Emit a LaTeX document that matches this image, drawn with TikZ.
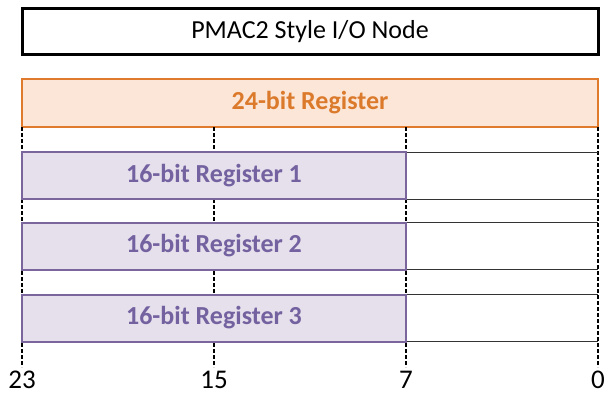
\documentclass[tikz,border=0pt]{standalone}
\usepackage{fontspec}
\setmainfont{Carlito}
\definecolor{orgline}{HTML}{E07B2E}
\definecolor{orgfill}{HTML}{FBE6D7}
\definecolor{orgtext}{HTML}{DC7A2C}
\definecolor{purline}{HTML}{7A669C}
\definecolor{purfill}{HTML}{E5E0EC}
\definecolor{purtext}{HTML}{7462A0}
\begin{document}
\begin{tikzpicture}[x=1pt,y=-1pt,
  titlebox/.style={draw=black,line width=3pt,minimum width=576pt,minimum height=46pt,inner sep=0pt,font=\fontsize{26}{30}\selectfont},
  wordbox/.style={draw=orgline,fill=orgfill,line width=2pt,minimum width=576pt,minimum height=47pt,inner sep=0pt,text=orgtext,font=\bfseries\fontsize{26}{30}\selectfont},
  halfbox/.style={draw=purline,fill=purfill,line width=2pt,minimum width=384pt,minimum height=47pt,inner sep=0pt,text=purtext,font=\bfseries\fontsize{26}{30}\selectfont},
  tick/.style={line width=1.6pt,dash pattern=on 3.5pt off 2.5pt},
  thin/.style={line width=1pt,draw=black!80},
  bitlbl/.style={font=\fontsize{27}{30}\selectfont,inner sep=0pt,anchor=north}
]
\useasboundingbox (0,0) rectangle (608,396);
\node[titlebox] (title) at (310,32) {PMAC2 Style I/O Node};
\node[wordbox] (w24) at (310,103) {24-bit Register};
\foreach \x/\n in {22/a,214/b,406/c,598/d}{
  \coordinate (top\n) at (\x,127);
  \coordinate (bot\n) at (\x,367);
}
\draw[tick] (topa) -- (bota);
\draw[tick] (topb) -- (botb);
\draw[tick] (topc) -- (botc);
\draw[tick] (topd) -- (botd);
\foreach \y/\n in {175.5/1,246/2,318/3}{
  \coordinate (ul\n) at (406,\y-23.5);
  \coordinate (ur\n) at (598,\y-23.5);
  \coordinate (ll\n) at (406,\y+23.5);
  \coordinate (lr\n) at (598,\y+23.5);
  \draw[thin] (ul\n) -- (ur\n);
  \draw[thin] (ll\n) -- (lr\n);
  \node[halfbox] (r\n) at (214,\y) {16-bit Register \n};
}
\node[bitlbl] (b23) at (22,371) {23};
\node[bitlbl] (b15) at (214,371) {15};
\node[bitlbl] (b7) at (406,371) {7};
\node[bitlbl] (b0) at (598,371) {0};
\end{tikzpicture}
\end{document}
